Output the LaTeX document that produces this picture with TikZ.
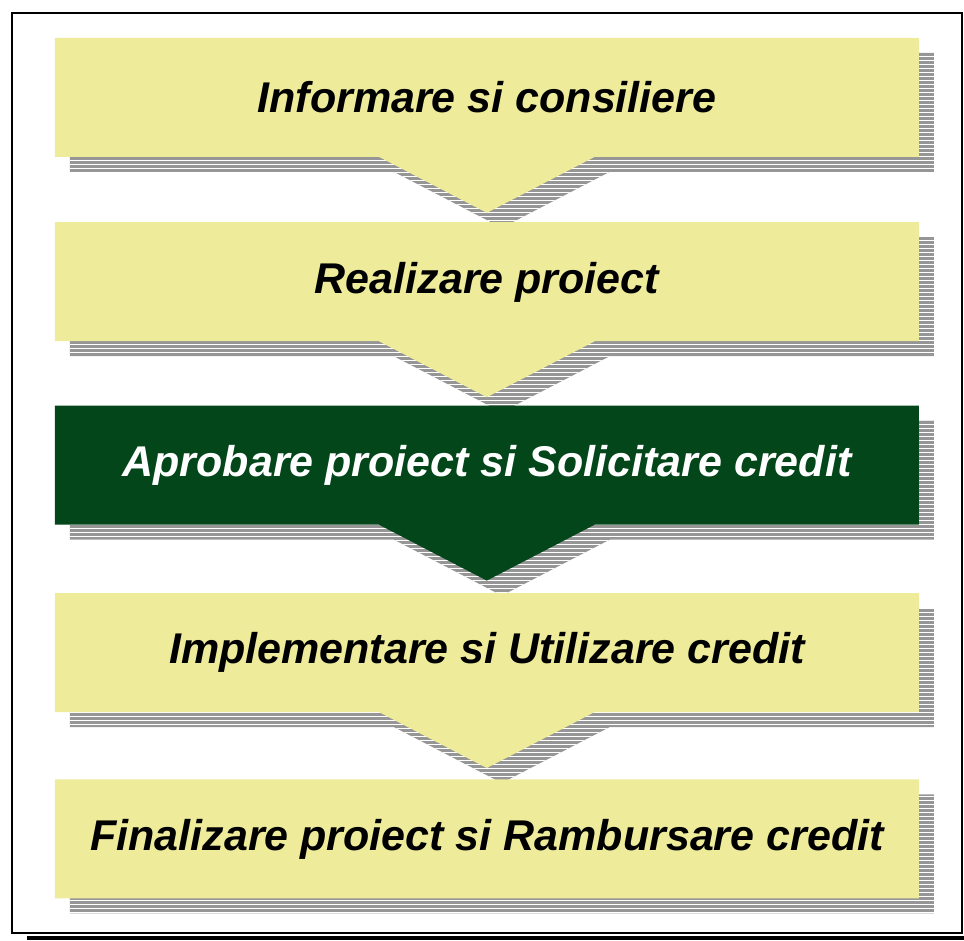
\documentclass[tikz,border=0pt]{standalone}
\usepackage{fontspec}
\setmainfont{Liberation Sans}
\usetikzlibrary{positioning,backgrounds}
\definecolor{galben}{RGB}{238,236,154}
\definecolor{verde}{RGB}{2,70,26}
\definecolor{umbra}{RGB}{150,150,150}
\newcommand{\etapa}[2]{([shift={(#2)}]#1.north west) -- ++(864,0) -- ++(0,119) -- ++(-324,0) -- ++(-108,56) -- ++(-108,-56) -- ++(-324,0) -- cycle}
\newcommand{\ultima}[2]{([shift={(#2)}]#1.north west) rectangle ++(864,119)}

\begin{document}
\begin{tikzpicture}[x=1pt,y=-1pt]
	\tikzset{every node/.style={minimum width=864pt,minimum height=119pt,inner sep=0pt,font=\fontsize{43}{48}\selectfont\bfseries\itshape}}
	\tikzset{pas/.style={text=black}}
	\tikzset{pas activ/.style={text=white}}
	\useasboundingbox (0,0) rectangle (964,940);
	\node[pas] (inform) at (487,97.5) {Informare si consiliere};
	\node[pas,below=65pt of inform] (proiect) {Realizare proiect};
	\node[pas activ,below=64pt of proiect] (aprobare) {Aprobare proiect si Solicitare credit};
	\node[pas,below=68pt of aprobare] (implem) {Implementare si Utilizare credit};
	\node[pas,below=67pt of implem] (final) {Finalizare proiect si Rambursare credit};
	\begin{pgfonlayer}{background}
		% umbra hasurata
		\begin{scope}
			\clip \etapa{inform}{15,15} \etapa{proiect}{15,15} \etapa{aprobare}{15,15}
				\etapa{implem}{15,15} \ultima{final}{15,15};
			\fill[umbra] (0,0) rectangle (964,940);
			\foreach \y in {0.5,4.5,...,940}
				\draw[white,line width=1.2pt] (0,\y) -- (964,\y);
		\end{scope}
		\fill[galben] \etapa{inform}{0,0} \etapa{proiect}{0,0} \etapa{implem}{0,0} \ultima{final}{0,0};
		\fill[verde] \etapa{aprobare}{0,0};
	\end{pgfonlayer}
	% chenar
	\fill (27,935.5) rectangle (964,940);
	\draw[line width=2pt] (11.5,12.5) rectangle (962,933);
\end{tikzpicture}
\end{document}
